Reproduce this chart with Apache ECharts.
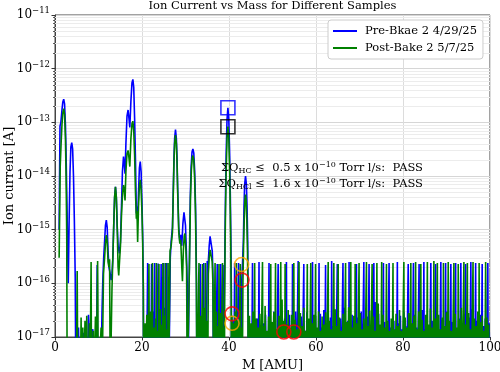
<!DOCTYPE html>
<html><head><meta charset="utf-8">
<script src="https://cdn.jsdelivr.net/npm/echarts@6/dist/echarts.min.js"></script>
<style>html,body{margin:0;padding:0;background:#fff}#c{width:500px;height:372px}</style>
</head><body><div id="c"></div>
<script>
const FONT = "'DejaVu Serif', serif";
const seriesNames = ['Pre-Bkae 2 4/29/25', 'Post-Bake 2 5/7/25'];
const titleText = 'Ion Current vs Mass for Different Samples';
const xName = 'M [AMU]';
const yName = 'Ion current [A]';

// Pre-bake (blue) [mass, current A]; 1e-18 = below the axis floor
const preA = [[0.95,1.0e-15],[1.15,8.5e-14],[1.35,1.0e-13],[1.6,1.7e-13],[1.8,2.4e-13],[2.0,2.7e-13],[2.2,2.2e-13],[2.4,9e-14],[2.55,2.5e-14],[2.75,3e-15],[2.9,5e-16],[3.05,1.0e-16],[3.25,1.5e-15],[3.45,1.2e-14],[3.65,3.5e-14],[3.85,4.2e-14],[4.05,3.2e-14],[4.25,1.0e-14],[4.45,1.5e-15],[4.65,1.3e-16],[4.8,1e-18],
[5.2,1e-18],[5.4,1.5e-17],[5.6,1e-18],[6.3,1e-18],[6.5,1.2e-17],[6.7,1e-18],[7.4,1e-18],[7.7,2.6e-17],[7.9,1.2e-17],[8.1,1e-18],[8.5,1e-18],[8.7,1.4e-17],[8.9,1e-18],[9.5,1e-18],[9.7,2.2e-16],[9.85,1e-18],[10.5,1e-18],[10.8,2.8e-17],[11.0,1.2e-16],[11.2,3.1e-16],[11.4,6e-16],[11.6,1.2e-15],[11.8,1.5e-15],[12.0,1.1e-15],[12.2,4e-16],[12.4,2e-16],[12.7,1.5e-16],[12.9,1.15e-16],[13.1,1.5e-16],[13.3,3e-16],[13.5,1.2e-15],[13.7,4e-15],[13.9,6.3e-15],[14.1,4e-15],[14.3,1.2e-15],[14.5,5e-16],[14.8,3.6e-16],[15.05,6e-16],[15.3,3e-15],[15.5,1.2e-14],[15.75,2.3e-14],[15.95,1.6e-14],[16.1,1.1e-14],[16.3,4e-14],[16.55,1.3e-13],[16.8,1.7e-13],[17.0,1.2e-13],[17.2,8e-14],[17.45,2.5e-13],[17.7,5.5e-13],[17.9,6.3e-13],[18.1,4.5e-13],[18.3,1.2e-13],[18.5,2e-14],[18.7,2e-15],[18.85,2.7e-15],[19.0,1.5e-15],[19.2,5e-15],[19.4,1.4e-14],[19.6,1.85e-14],[19.8,1.2e-14],[20.0,3e-15],[20.15,8.5e-16],[20.3,1e-16],[20.4,1e-18]];
const preB = [[20.6,1e-18],[20.9,1.3e-17],[21.05,1e-18],[21.22,1e-18],[21.3,2.4e-16],[21.38,1e-18],[21.6,2.2e-17],[21.75,1e-18],[21.9,1.6e-17],[22.05,1e-18],[22.13,1e-18],[22.2,2.3e-16],[22.28,1e-18],[22.5,3e-17],[22.65,1e-18],[22.82,1e-18],[22.9,2.4e-16],[22.98,1e-18],[23.2,1.4e-17],[23.35,1e-18],[23.62,1e-18],[23.7,2.35e-16],[23.78,1e-18],[24.0,2.5e-17],[24.15,1e-18],[24.32,1e-18],[24.4,2.3e-16],[24.48,1e-18],[24.7,1.8e-17],[24.85,1e-18],[24.92,1e-18],[25.0,2.4e-16],[25.08,1e-18],[25.3,3.5e-17],[25.45,1e-18],[25.62,1e-18],[25.7,2.4e-16],[25.78,1e-18],[26.0,2e-17],[26.15,1e-18],[26.3,1e-18],[26.5,3e-16],[26.7,6e-16],[27.0,1.1e-15],[27.2,6e-15],[27.35,2.2e-14],[27.5,5e-14],[27.7,7.3e-14],[27.9,5e-14],[28.05,2.2e-14],[28.2,6e-15],[28.45,1.1e-15],[28.7,6e-16],[28.9,8e-16],[29.15,5e-16],[29.4,1.3e-15],[29.65,2.1e-15],[29.8,2.2e-15],[30.0,1.2e-15],[30.2,4e-16],[30.4,1e-16],[30.55,1e-18],[30.8,1e-18],[30.95,6e-16],[31.1,4e-15],[31.3,1.5e-14],[31.5,2.8e-14],[31.7,3.2e-14],[31.9,2.7e-14],[32.1,1.3e-14],[32.3,3e-15],[32.5,2e-16],[32.65,1e-18]];
const preC = [[32.9,1e-18],[33.1,1.5e-17],[33.25,1e-18],[33.32,1e-18],[33.4,2.3e-16],[33.48,1e-18],[33.7,2.5e-17],[33.85,1e-18],[34.12,1e-18],[34.2,2.4e-16],[34.28,1e-18],[34.5,1.8e-17],[34.65,1e-18],[34.85,1e-18],[35.0,2.6e-16],[35.2,2.2e-16],[35.45,5e-16],[35.65,7.5e-16],[35.8,7.9e-16],[35.95,7e-16],[36.15,4e-16],[36.3,1.5e-16],[36.45,1e-18],[36.7,2.8e-17],[36.85,1e-18],[37.22,1e-18],[37.3,2.3e-16],[37.38,1e-18],[37.6,1.5e-17],[37.75,1e-18],[38.02,1e-18],[38.1,2.3e-16],[38.18,1e-18],[38.52,1e-18],[38.6,2.2e-16],[38.68,1e-18],[38.9,1e-18],[38.95,7e-17],[39.1,1e-15],[39.2,4.6e-15],[39.35,2.6e-14],[39.55,1.15e-13],[39.75,1.87e-13],[39.95,1.15e-13],[40.15,2.6e-14],[40.3,4.6e-15],[40.4,1e-15],[40.55,7e-17],[40.6,1e-18],
[40.9,1e-18],[41.0,2e-17],[41.1,1e-18],[41.22,1e-18],[41.3,2.4e-16],[41.38,1e-18],[41.6,1.5e-17],[41.75,1e-18],[42.12,1e-18],[42.2,2.4e-16],[42.28,1e-18],[42.5,2.5e-17],[42.65,1e-18],[42.8,1e-18],[42.95,1.2e-16],[43.1,2.3e-16],[43.3,6e-16],[43.45,2.7e-15],[43.6,7e-15],[43.8,1.0e-14],[44.0,7e-15],[44.15,2.7e-15],[44.3,6e-16],[44.4,5e-17],[44.45,1e-18]];
const preD = [[44.6,2e-17],[44.8,1e-18],[45.0,1.4e-17],[45.2,1e-18],[45.4,2.4e-16],[45.5,1e-18],[45.7,2.8e-17],[45.9,1e-18],[46.1,1.6e-17],[46.3,1e-18],[46.5,2.2e-17],[46.7,1e-18],[46.9,2.5e-16],[47.0,1e-18],[47.2,1.3e-17],[47.4,1e-18],[47.6,3.5e-17],[47.8,1e-18],[48.0,1.8e-17],[48.2,1e-18],[48.4,2.6e-17],[48.6,1e-18],[48.8,1.2e-17],[49.0,1e-18],[49.2,2.4e-16],[49.3,1e-18],[49.5,2e-17],[49.7,1e-18],[49.9,1.5e-17],[50.1,1e-18],[50.3,3e-17],[50.5,1e-18],[50.7,1.3e-17],[50.9,1e-18],[51.1,1e-18],[51.3,2.3e-16],[51.4,1e-18],[51.6,2.4e-17],[51.8,1e-18],[52.0,4e-17],[52.2,1e-18],[52.4,1.7e-17],[52.6,1e-18],[52.8,2.2e-17],[53.0,1e-18],[53.2,2.5e-16],[53.3,1e-18],[53.5,1.4e-17],[53.7,1e-18],[53.9,2.6e-17],[54.1,1e-18],[54.3,1.2e-17],[54.5,1e-18],[54.6,2.3e-16],[54.7,1e-18],[54.9,1.9e-17],[55.1,1e-18],[55.3,3e-17],[55.5,1e-18],[55.7,1e-18],[55.9,2.6e-16],[56.0,1e-18],[56.2,1.5e-17],[56.4,1e-18],[56.6,2.4e-17],[56.8,1e-18],[57.0,1e-18],[57.2,2.3e-16],[57.3,1e-18],[57.5,1.3e-17],[57.7,1e-18],[57.9,2.9e-17],[58.1,1e-18],[58.3,1.6e-17],[58.5,1e-18],[58.7,2.1e-17],[58.9,1e-18],[59.1,1e-18],[59.2,2.5e-16],[59.3,1e-18],[59.5,1.4e-17],[59.7,1e-18],[59.9,2.5e-17],[60.1,1e-18],[60.3,1.2e-17],[60.5,1e-18],[60.7,2.4e-16],[60.8,1e-18],[61.0,2.7e-17],[61.2,1e-18],[61.4,1.5e-17],[61.6,1e-18],[61.8,3.2e-17],[62.0,1e-18],[62.2,2.2e-16],[62.3,1e-18],[62.5,1.8e-17],[62.7,1e-18],[62.9,1.3e-17],[63.1,1e-18],[63.3,2.3e-17],[63.5,1e-18],[63.6,2.6e-16],[63.7,1e-18],[63.9,1.6e-17],[64.1,1e-18],[64.3,2.8e-17],[64.5,1e-18],[64.7,1e-18],[64.9,2.3e-16],[65.0,1e-18],[65.2,1.2e-17],[65.4,1e-18],[65.6,2.2e-17],[65.8,1e-18],[66.0,1e-18],[66.2,2.4e-16],[66.3,1e-18],[66.5,3.5e-17],[66.7,1e-18],[66.9,1.4e-17],[67.1,1e-18],[67.3,2e-17],[67.5,1e-18],[67.6,2.5e-16],[67.7,1e-18],[67.9,1.7e-17],[68.1,1e-18],[68.3,2.6e-17],[68.5,1e-18],[68.7,1.3e-17],[68.9,1e-18],[69.1,1e-18],[69.3,2.3e-16],[69.4,1e-18],[69.6,2.3e-17],[69.8,1e-18],[70.0,1.5e-17],[70.2,1e-18],[70.4,3e-17],[70.6,1e-18],[70.8,1e-18],[71.0,2.5e-16],[71.1,1e-18],[71.3,1.8e-17],[71.5,1e-18],[71.7,2.4e-17],[71.9,1e-18],[72.1,1e-18],[72.2,2.3e-16],[72.3,1e-18],[72.5,1.3e-17],[72.7,1e-18],[72.9,2.1e-17],[73.1,1e-18],[73.3,2.4e-16],[73.4,1e-18],[73.6,4.5e-17],[73.8,1e-18],[74.0,1.6e-17],[74.2,1e-18],[74.4,2.7e-17],[74.6,1e-18],[74.8,1.4e-17],[75.0,1e-18],[75.2,2.2e-17],[75.4,1e-18],[75.5,2.4e-16],[75.6,1e-18],[75.8,1.9e-17],[76.0,1e-18],[76.2,1.2e-17],[76.4,1e-18],[76.6,1e-18],[76.8,2.4e-16],[76.9,1e-18],[77.1,1.5e-17],[77.3,1e-18],[77.5,1.2e-17],[77.7,1e-18],[77.9,2e-17],[78.1,1e-18],[78.3,1.3e-17],[78.5,1e-18],[78.7,2.5e-16],[78.8,1e-18],[79.0,1.8e-17],[79.2,1e-18],[79.4,2.5e-17],[79.6,1e-18],[79.8,1.4e-17],[80.0,1e-18],[80.2,2.9e-17],[80.4,1e-18],[80.6,1.6e-17],[80.8,1e-18],[81.0,1e-18],[81.2,2.3e-16],[81.3,1e-18],[81.5,2.2e-17],[81.7,1e-18],[81.9,1.3e-17],[82.1,1e-18],[82.3,1e-18],[82.4,2.4e-16],[82.5,1e-18],[82.7,2.6e-17],[82.9,1e-18],[83.1,1.5e-17],[83.3,1e-18],[83.5,1e-18],[83.7,2.3e-16],[83.8,1e-18],[84.0,1.8e-17],[84.2,1e-18],[84.4,3.2e-17],[84.6,1e-18],[84.8,2.5e-16],[84.9,1e-18],[85.1,1.4e-17],[85.3,1e-18],[85.5,2.4e-17],[85.7,1e-18],[85.9,1.2e-17],[86.1,1e-18],[86.3,1e-18],[86.4,2.4e-16],[86.5,1e-18],[86.7,2e-17],[86.9,1e-18],[87.1,1.5e-17],[87.3,1e-18],[87.5,2.3e-16],[87.6,1e-18],[87.8,2.8e-17],[88.0,1e-18],[88.2,1.3e-17],[88.4,1e-18],[88.6,1e-18],[88.7,2.5e-16],[88.8,1e-18],[89.0,2.1e-17],[89.2,1e-18],[89.4,1.6e-17],[89.6,1e-18],[89.8,2.4e-16],[89.9,1e-18],[90.1,3e-17],[90.3,1e-18],[90.5,1.4e-17],[90.7,1e-18],[90.9,1e-18],[91.0,2.3e-16],[91.1,1e-18],[91.3,1.9e-17],[91.5,1e-18],[91.7,2.5e-17],[91.9,1e-18],[92.1,2.4e-16],[92.2,1e-18],[92.4,1.3e-17],[92.6,1e-18],[92.8,2.2e-17],[93.0,1e-18],[93.2,1e-18],[93.3,2.4e-16],[93.4,1e-18],[93.6,1.7e-17],[93.8,1e-18],[94.0,2.7e-17],[94.2,1e-18],[94.4,2.3e-16],[94.5,1e-18],[94.7,1.4e-17],[94.9,1e-18],[95.1,2.3e-17],[95.3,1e-18],[95.5,1e-18],[95.6,2.5e-16],[95.7,1e-18],[95.9,3.3e-17],[96.1,1e-18],[96.3,1.5e-17],[96.5,1e-18],[96.7,2.4e-16],[96.8,1e-18],[97.0,2e-17],[97.2,1e-18],[97.4,1.3e-17],[97.6,1e-18],[97.8,2.6e-17],[98.0,1e-18],[98.2,2.3e-16],[98.3,1e-18],[98.5,1.6e-17],[98.7,1e-18],[98.9,2.2e-17],[99.1,1e-18],[99.3,1e-18],[99.5,2.4e-16],[99.6,1e-18],[99.8,1.8e-17],[100,1e-18]];

// Post-bake (green)
const postA = [[0.95,3e-16],[1.2,1.5e-14],[1.4,4e-14],[1.6,9e-14],[1.8,1.5e-13],[2.0,1.8e-13],[2.2,1.4e-13],[2.4,5e-14],[2.55,1e-14],[2.7,8e-16],[2.8,1e-18],[4.9,1e-18],[5.1,1.7e-16],[5.25,1e-18],[5.8,1e-18],[6.0,2.3e-17],[6.15,1e-18],[6.4,1.5e-17],[6.55,1e-18],[6.9,2e-17],[7.05,1e-18],[7.3,2.5e-17],[7.45,1e-18],[7.9,1.8e-17],[8.05,1e-18],[8.3,2.5e-16],[8.4,1e-18],[8.8,1.3e-17],[8.95,1e-18],[9.3,2.4e-17],[9.45,1e-18],[9.8,2.6e-16],[9.95,1e-18],[10.4,1e-18],[10.6,1.5e-17],[10.8,1e-18],[11.0,1e-18],[11.15,1.5e-16],[11.4,3e-16],[11.6,5.5e-16],[11.8,7.9e-16],[12.0,6e-16],[12.2,2.5e-16],[12.4,2e-16],[12.55,2.8e-16],[12.7,1e-18],[12.9,1e-18],[13.1,8e-17],[13.3,3e-16],[13.5,1.2e-15],[13.7,4e-15],[13.9,6.3e-15],[14.1,4e-15],[14.3,1.1e-15],[14.5,2e-16],[14.65,1.4e-16],[14.85,2.7e-16],[15.05,5e-16],[15.3,2e-15],[15.55,5e-15],[15.75,6.8e-15],[15.95,5e-15],[16.1,3.5e-15],[16.3,1.2e-14],[16.55,2.6e-14],[16.8,3.0e-14],[17.0,2.2e-14],[17.2,1.5e-14],[17.45,5e-14],[17.7,9.5e-14],[17.9,1.05e-13],[18.1,7e-14],[18.3,2.5e-14],[18.5,5e-15],[18.7,1.6e-15],[18.85,2.2e-15],[19.0,5.9e-16],[19.2,2.7e-15],[19.4,6.5e-15],[19.6,8.5e-15],[19.8,5.5e-15],[20.0,2e-15],[20.15,5.9e-16],[20.3,8e-17],[20.35,1e-18]];
const postB = [[20.5,1e-18],[20.7,1.8e-17],[20.9,1e-18],[21.1,2.6e-17],[21.3,1e-18],[21.5,1e-18],[21.6,2.3e-16],[21.7,1e-18],[21.9,3e-17],[22.1,1e-18],[22.3,1e-18],[22.4,2.4e-16],[22.5,1e-18],[22.7,1.5e-17],[22.9,1e-18],[23.1,2.2e-17],[23.2,1e-18],[23.3,2.4e-16],[23.4,1e-18],[23.6,1.3e-17],[23.8,1e-18],[23.9,2.3e-16],[24.0,1e-18],[24.2,3.3e-17],[24.4,1e-18],[24.6,1.7e-17],[24.7,1e-18],[24.8,2.4e-16],[24.9,1e-18],[25.1,2.5e-17],[25.3,1e-18],[25.4,2.4e-16],[25.5,1e-18],[25.7,1.4e-17],[25.9,1e-18],[26.0,2.4e-16],[26.1,1e-18],[26.3,1e-18],[26.45,4e-16],[26.7,5e-16],[27.0,9e-16],[27.2,5e-15],[27.35,1.8e-14],[27.5,4e-14],[27.7,5.8e-14],[27.9,4e-14],[28.05,1.8e-14],[28.2,5e-15],[28.45,9e-16],[28.7,5.5e-16],[28.9,6.5e-16],[29.15,2e-16],[29.3,1.1e-16],[29.5,4e-16],[29.7,7.5e-16],[29.85,8.5e-16],[30.05,5e-16],[30.25,2e-16],[30.4,1e-18],[30.85,1e-18],[31.0,6e-16],[31.15,4e-15],[31.35,1.3e-14],[31.55,2.2e-14],[31.7,2.4e-14],[31.9,2e-14],[32.1,9e-15],[32.3,2e-15],[32.5,1e-16],[32.6,1e-18]];
const postC = [[32.8,1e-18],[33.0,1e-18],[33.1,2.4e-16],[33.2,1e-18],[33.4,2.5e-17],[33.6,1e-18],[33.8,1e-18],[33.9,2.3e-16],[34.0,1e-18],[34.2,3.5e-17],[34.4,1e-18],[34.5,1e-18],[34.6,2.4e-16],[34.7,1e-18],[34.9,2e-17],[35.1,1e-18],[35.25,1.5e-16],[35.45,3e-16],[35.65,4.2e-16],[35.8,4.5e-16],[35.95,4e-16],[36.15,2.5e-16],[36.3,1e-16],[36.45,1e-18],[36.7,1e-18],[36.8,2.4e-16],[36.9,1e-18],[37.1,3e-17],[37.3,1e-18],[37.5,1.6e-17],[37.6,1e-18],[37.7,2.3e-16],[37.8,1e-18],[38.0,2.8e-17],[38.2,1e-18],[38.4,1e-18],[38.5,2.4e-16],[38.6,1e-18],[38.8,1.5e-17],[38.95,1e-18],[39.0,5e-17],[39.1,5e-16],[39.2,2.3e-15],[39.35,1.2e-14],[39.55,5.2e-14],[39.75,8.3e-14],[39.95,5.2e-14],[40.15,1.2e-14],[40.3,2.3e-15],[40.4,5e-16],[40.5,5e-17],[40.55,1e-18],
[40.7,2.5e-17],[40.85,1e-18],[41.0,1.8e-17],[41.2,1e-18],[41.4,3e-17],[41.6,1e-18],[41.7,2.4e-16],[41.8,1e-18],[42.0,2e-17],[42.2,1e-18],[42.4,1e-18],[42.6,2.3e-16],[42.7,1e-18],[42.9,1.5e-17],[43.05,1e-18],[43.2,1e-16],[43.35,5e-16],[43.5,1.5e-15],[43.65,3.5e-15],[43.8,4.5e-15],[43.95,3.5e-15],[44.1,1.5e-15],[44.25,4e-16],[44.35,5e-17],[44.4,1e-18]];
const postD = [[44.5,1e-18],[44.7,2.5e-17],[44.9,1e-18],[45.1,1.8e-17],[45.3,1e-18],[45.5,3e-17],[45.7,1e-18],[45.9,2.4e-16],[46.0,1e-18],[46.1,1e-18],[46.3,2.2e-17],[46.5,1e-18],[46.7,1.5e-17],[46.9,1e-18],[47.1,2.7e-17],[47.3,1e-18],[47.5,1e-18],[47.7,2.5e-16],[47.8,1e-18],[47.9,1.6e-17],[48.1,1e-18],[48.3,3.8e-17],[48.5,1e-18],[48.7,1.3e-17],[48.9,1e-18],[49.1,2.4e-17],[49.3,1e-18],[49.5,1e-18],[49.6,2.3e-16],[49.7,1e-18],[49.9,1.9e-17],[50.1,1e-18],[50.3,2.9e-17],[50.5,1e-18],[50.7,2.4e-16],[50.8,1e-18],[51.0,1.4e-17],[51.2,1e-18],[51.4,2.5e-17],[51.6,1e-18],[51.8,1e-18],[51.9,2.5e-16],[52.0,1e-18],[52.2,5e-17],[52.4,1e-18],[52.6,2e-17],[52.8,1e-18],[52.9,2.3e-16],[53.0,1e-18],[53.2,1.7e-17],[53.4,1e-18],[53.6,3.2e-17],[53.8,1e-18],[54.0,1.5e-17],[54.2,1e-18],[54.4,2.6e-17],[54.6,1e-18],[54.8,1e-18],[54.9,2.4e-16],[55.0,1e-18],[55.2,2.1e-17],[55.4,1e-18],[55.6,1.4e-17],[55.8,1e-18],[56.0,1e-18],[56.1,2.5e-16],[56.2,1e-18],[56.4,2.8e-17],[56.6,1e-18],[56.8,1.6e-17],[57.0,1e-18],[57.2,3.5e-17],[57.4,1e-18],[57.6,1.3e-17],[57.8,1e-18],[58.0,2.3e-16],[58.1,1e-18],[58.3,2.2e-17],[58.5,1e-18],[58.7,1e-18],[58.8,2.4e-16],[58.9,1e-18],[59.1,1.8e-17],[59.3,1e-18],[59.5,2.6e-17],[59.7,1e-18],[59.8,1e-18],[59.9,2.3e-16],[60.0,1e-18],[60.2,1.5e-17],[60.4,1e-18],[60.6,3e-17],[60.8,1e-18],[61.0,1.3e-17],[61.2,1e-18],[61.4,2.4e-17],[61.6,1e-18],[61.8,1.7e-17],[62.0,1e-18],[62.2,2.9e-17],[62.4,1e-18],[62.6,1e-18],[62.8,2.5e-16],[62.9,1e-18],[63.1,2e-17],[63.3,1e-18],[63.5,1.4e-17],[63.7,1e-18],[63.9,1e-18],[64.1,2.4e-16],[64.2,1e-18],[64.4,3.3e-17],[64.6,1e-18],[64.8,1.6e-17],[65.0,1e-18],[65.1,2.3e-16],[65.2,1e-18],[65.4,2.3e-17],[65.6,1e-18],[65.8,1.3e-17],[66.0,1e-18],[66.2,2.7e-17],[66.4,1e-18],[66.6,1e-18],[66.8,2.4e-16],[66.9,1e-18],[67.1,1.9e-17],[67.3,1e-18],[67.5,3.6e-17],[67.7,1e-18],[67.9,1e-18],[68.0,2.5e-16],[68.1,1e-18],[68.3,1.5e-17],[68.5,1e-18],[68.7,2.5e-17],[68.9,1e-18],[69.0,2.3e-16],[69.1,1e-18],[69.3,1.8e-17],[69.5,1e-18],[69.7,1e-18],[69.9,2.4e-16],[70.0,1e-18],[70.2,2.8e-17],[70.4,1e-18],[70.6,1.4e-17],[70.8,1e-18],[71.0,2.2e-17],[71.2,1e-18],[71.4,1e-18],[71.6,2.5e-16],[71.7,1e-18],[71.9,1.6e-17],[72.1,1e-18],[72.3,3.1e-17],[72.5,1e-18],[72.7,1e-18],[72.9,2.3e-16],[73.0,1e-18],[73.2,2.4e-17],[73.4,1e-18],[73.6,1.3e-17],[73.8,1e-18],[74.0,2.4e-16],[74.1,1e-18],[74.3,4.2e-17],[74.5,1e-18],[74.7,1.7e-17],[74.9,1e-18],[75.1,2.5e-16],[75.2,1e-18],[75.4,2.6e-17],[75.6,1e-18],[75.8,1.5e-17],[76.0,1e-18],[76.2,2.3e-16],[76.3,1e-18],[76.5,2e-17],[76.7,1e-18],[76.9,1.3e-17],[77.1,1e-18],[77.3,2.2e-17],[77.5,1e-18],[77.7,2.4e-16],[77.8,1e-18],[78.0,1.4e-17],[78.2,1e-18],[78.4,2.7e-17],[78.6,1e-18],[78.8,1.6e-17],[79.0,1e-18],[79.2,3.2e-17],[79.4,1e-18],[79.6,1.3e-17],[79.8,1e-18],[80.0,1e-18],[80.2,2.5e-16],[80.3,1e-18],[80.5,2.3e-17],[80.7,1e-18],[80.9,1.5e-17],[81.1,1e-18],[81.3,2.8e-17],[81.5,1e-18],[81.7,1e-18],[81.8,2.4e-16],[81.9,1e-18],[82.1,1.8e-17],[82.3,1e-18],[82.5,2.5e-17],[82.7,1e-18],[82.9,2.5e-16],[83.0,1e-18],[83.2,1.4e-17],[83.4,1e-18],[83.6,3e-17],[83.8,1e-18],[84.0,1e-18],[84.1,2.3e-16],[84.2,1e-18],[84.4,2.1e-17],[84.6,1e-18],[84.8,1.3e-17],[85.0,1e-18],[85.2,2.6e-17],[85.4,1e-18],[85.6,2.5e-16],[85.7,1e-18],[85.9,1.7e-17],[86.1,1e-18],[86.3,3.4e-17],[86.5,1e-18],[86.7,1.5e-17],[86.9,1e-18],[87.1,2.6e-16],[87.2,1e-18],[87.4,2.2e-17],[87.6,1e-18],[87.8,1e-18],[87.9,2.4e-16],[88.0,1e-18],[88.2,2.6e-17],[88.4,1e-18],[88.6,1.4e-17],[88.8,1e-18],[89.0,2.3e-17],[89.2,1e-18],[89.3,2.4e-16],[89.4,1e-18],[89.6,1.6e-17],[89.8,1e-18],[90.0,2.9e-17],[90.2,1e-18],[90.4,2.5e-16],[90.5,1e-18],[90.7,2e-17],[90.9,1e-18],[91.1,1.3e-17],[91.3,1e-18],[91.5,1e-18],[91.7,2.4e-16],[91.8,1e-18],[92.0,2.7e-17],[92.2,1e-18],[92.4,1.5e-17],[92.6,1e-18],[92.7,2.3e-16],[92.8,1e-18],[93.0,2.1e-17],[93.2,1e-18],[93.4,3.5e-17],[93.6,1e-18],[93.8,1e-18],[94.0,2.5e-16],[94.1,1e-18],[94.3,1.7e-17],[94.5,1e-18],[94.7,1e-18],[94.8,2.4e-16],[94.9,1e-18],[95.1,2.8e-17],[95.3,1e-18],[95.5,1.4e-17],[95.7,1e-18],[95.9,1e-18],[96.1,2.5e-16],[96.2,1e-18],[96.4,2.2e-17],[96.6,1e-18],[96.8,1.6e-17],[97.0,1e-18],[97.2,3e-17],[97.4,1e-18],[97.5,2.4e-16],[97.6,1e-18],[97.8,1.9e-17],[98.0,1e-18],[98.2,2.5e-17],[98.4,1e-18],[98.6,1.3e-17],[98.8,1e-18],[99.0,2.5e-16],[99.1,1e-18],[99.3,2.3e-17],[99.5,1e-18],[99.7,1.7e-17],[99.9,1e-18]];

// annotation markers [mass, current]
const blueSquare = [[39.75, 1.87e-13]];
const blackSquare = [[39.75, 8.3e-14]];
const orangeCircles = [[42.9, 2.24e-16], [40.7, 1.8e-17]];
const redCircles = [[43.0, 1.15e-16], [40.7, 2.7e-17], [52.6, 1.24e-17], [54.9, 1.24e-17]];
const passLines = [{sub: 'HC', val: '0.5'}, {sub: 'HCl', val: '1.6'}];

const preData = preA.concat(preB, preC, preD);
const postData = postA.concat(postB, postC, postD);

const chart = echarts.init(document.getElementById('c'), null, {renderer: 'canvas', devicePixelRatio: 1});

const G = {left: 55, top: 15, width: 435, height: 322};

function marker(data, symbol, color, size) {
  return {type: 'scatter', data: data, symbol: symbol, symbolSize: size, silent: true, z: 5,
    itemStyle: {color: 'rgba(0,0,0,0)', borderColor: color, borderWidth: 1.6}};
}

const option = {
  animation: false,
  backgroundColor: '#fff',
  textStyle: {fontFamily: FONT},
  grid: {left: G.left, top: G.top, width: G.width, height: G.height, containLabel: false, outerBoundsMode: 'none',
    show: true, borderColor: '#444', borderWidth: 1, backgroundColor: 'rgba(0,0,0,0)'},
  legend: {
    data: seriesNames, orient: 'vertical', left: 328, top: 20,
    padding: [4, 6, 4, 5], itemGap: 3, itemWidth: 24, itemHeight: 2, icon: 'rect',
    backgroundColor: '#fff', borderColor: '#cccccc', borderWidth: 1, borderRadius: 3,
    textStyle: {fontFamily: FONT, fontSize: 11.5, color: '#000', padding: [0, 0, 0, 3], lineHeight: 14},
    selectedMode: false
  },
  xAxis: {
    type: 'value', min: 0, max: 100, interval: 20,
    name: xName, nameLocation: 'middle', nameGap: 18,
    nameTextStyle: {fontFamily: FONT, fontSize: 13, color: '#000'},
    axisLine: {show: true, lineStyle: {color: '#444'}},
    axisTick: {show: true, inside: false, length: 3.5, lineStyle: {color: '#333'}},
    axisLabel: {fontFamily: FONT, fontSize: 12, color: '#000', margin: 5},
    splitLine: {show: true, lineStyle: {color: '#dcdcdc', width: 1}}
  },
  yAxis: {
    type: 'log', logBase: 10, min: 1e-17, max: 1e-11,
    axisLine: {show: true, lineStyle: {color: '#444'}},
    axisTick: {show: true, inside: false, length: 3.5, lineStyle: {color: '#333'}},
    axisLabel: {
      margin: 5, color: '#000',
      formatter: function (v) { const e = Math.round(Math.log10(v)); return '{b|10}{s|\u2212' + Math.abs(e) + '}'; },
      rich: {
        b: {fontFamily: FONT, fontSize: 12, color: '#000'},
        s: {fontFamily: FONT, fontSize: 8.5, color: '#000', padding: [0, 0, 8, 0]}
      }
    },
    splitLine: {show: true, lineStyle: {color: '#d6d6d6', width: 1}}
  },
  series: [
    {name: seriesNames[0], type: 'line', data: preData, showSymbol: false, symbol: 'none', z: 3,
      lineStyle: {color: '#0000ff', width: 1.6}, itemStyle: {color: '#0000ff'}, clip: true},
    {name: seriesNames[1], type: 'line', data: postData, showSymbol: false, symbol: 'none', z: 4,
      lineStyle: {color: '#008000', width: 1.6}, itemStyle: {color: '#008000'}, clip: true},
    marker(blueSquare, 'rect', '#0000ff', 14),
    marker(blackSquare, 'rect', '#000000', 14),
    marker(orangeCircles, 'circle', '#ffa500', 14),
    marker(redCircles, 'circle', '#ff0000', 14)
  ]
};
chart.setOption(option);

// log minor grid lines and ticks, placed through the axis scale
const els = [];
const x0 = chart.convertToPixel({gridIndex: 0}, [0, 1e-15])[0];
const x1 = chart.convertToPixel({gridIndex: 0}, [100, 1e-15])[0];
const yTop = chart.convertToPixel({gridIndex: 0}, [0, 1e-11])[1];
const yBot = chart.convertToPixel({gridIndex: 0}, [0, 1e-17])[1];
for (let e = -17; e < -11; e++) {
  for (let k = 2; k <= 9; k++) {
    const v = k * Math.pow(10, e);
    const y = Math.round(chart.convertToPixel({gridIndex: 0}, [0, v])[1]) + 0.5;
    els.push({type: 'line', silent: true, z: 1, shape: {x1: x0, y1: y, x2: x1, y2: y}, style: {stroke: '#ececec', lineWidth: 1}});
    els.push({type: 'line', silent: true, z: 1, shape: {x1: x0 - 2, y1: y, x2: x0, y2: y}, style: {stroke: '#333', lineWidth: 0.8}});
  }
}
els.push({type: 'text', silent: true, z: 6, style: {text: titleText, x: (x0 + x1) / 2, y: 6, align: 'center', verticalAlign: 'middle', textAlign: 'center', textVerticalAlign: 'middle', font: "11.5px 'DejaVu Serif', serif", fill: '#000'}});
els.push({type: 'text', silent: true, z: 6, x: 10, y: (yTop + yBot) / 2, rotation: Math.PI / 2,
  style: {text: yName, x: 0, y: 0, align: 'center', verticalAlign: 'middle', textAlign: 'center', textVerticalAlign: 'middle', font: "13px 'DejaVu Serif', serif", fill: '#000'}});
passLines.forEach(function (p, i) {
  els.push({type: 'text', silent: true, z: 6, style: {
    text: '{a|\u03a3Q}{sub|' + p.sub + '}{a| \u2264  ' + p.val + ' x 10}{sup|\u221210}{a| Torr l/s:  PASS}',
    x: 423, y: 168 + i * 16, align: 'right', verticalAlign: 'middle', textAlign: 'right', textVerticalAlign: 'middle',
    rich: {
      a: {fontFamily: FONT, fontSize: 11.5, fill: '#000', color: '#000'},
      sub: {fontFamily: FONT, fontSize: 8, fill: '#000', color: '#000', padding: [6, 0, 0, 0]},
      sup: {fontFamily: FONT, fontSize: 8, fill: '#000', color: '#000', padding: [0, 0, 7, 0]}
    }
  }});
});
chart.setOption({graphic: {elements: els}});
</script>
</body></html>
